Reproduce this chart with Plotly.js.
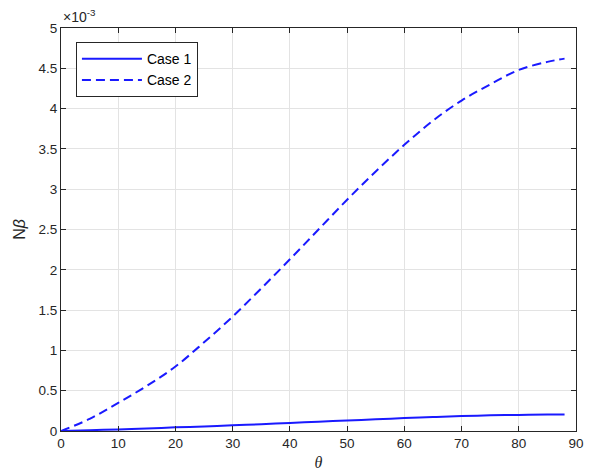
<!DOCTYPE html>
<html>
<head>
<meta charset="utf-8">
<script src="https://cdn.plot.ly/plotly-3.0.1.min.js"></script>
<style>html,body{margin:0;padding:0;background:#fff;}#chart{width:598px;height:472px;}</style>
</head>
<body>
<div id="chart"></div>
<script>
// theta (degrees)
const theta = [0, 5, 10, 15, 20, 25, 30, 35, 40, 45, 50, 55, 60, 65, 70, 75, 80, 85, 88];
// N_beta values in units of 1e-3
const case1 = [0, 0.01, 0.02, 0.032, 0.045, 0.057, 0.07, 0.085, 0.1, 0.115, 0.13, 0.145, 0.16, 0.173, 0.185, 0.194, 0.2, 0.204, 0.205];
const case2 = [0, 0.15, 0.35, 0.56, 0.8, 1.1, 1.42, 1.77, 2.13, 2.5, 2.87, 3.22, 3.55, 3.85, 4.1, 4.3, 4.48, 4.58, 4.62];
const yTicks = [0, 0.5, 1, 1.5, 2, 2.5, 3, 3.5, 4, 4.5, 5];
const yTickText = ['0', '0.5', '1', '1.5', '2', '2.5', '3', '3.5', '4', '4.5', '5'];
const xTicks = [0, 10, 20, 30, 40, 50, 60, 70, 80, 90];

const traces = [
  {x: theta, y: case1, name: 'Case 1', mode: 'lines', line: {color: '#1a1aff', width: 2, shape: 'spline'}},
  {x: theta, y: case2, name: 'Case 2', mode: 'lines', line: {color: '#1a1aff', width: 2, dash: '9px,5px', shape: 'spline'}}
];

const axisCommon = {
  showline: true, linecolor: '#262626', linewidth: 1, mirror: 'ticks',
  ticks: 'inside', ticklen: 5, tickcolor: '#262626',
  showgrid: true, gridcolor: '#e3e3e3', gridwidth: 1,
  zeroline: false,
  tickfont: {family: 'Liberation Sans, Arial, sans-serif', size: 13.5, color: '#262626'}
};

const layout = {
  width: 598, height: 472,
  margin: {l: 61, r: 22, t: 28, b: 41},
  paper_bgcolor: '#ffffff', plot_bgcolor: '#ffffff',
  showlegend: true,
  legend: {
    x: 0.029, y: 0.965, xanchor: 'left', yanchor: 'top',
    bgcolor: '#ffffff', bordercolor: '#262626', borderwidth: 1,
    font: {family: 'Liberation Sans, Arial, sans-serif', size: 14, color: '#000'},
    itemwidth: 60,
    tracegroupgap: 0
  },
  xaxis: Object.assign({}, axisCommon, {
    range: [0, 90], tickvals: xTicks,
    title: {text: '<i>θ</i>', font: {family: 'Liberation Serif, Times New Roman, serif', size: 16, color: '#262626'}, standoff: 6}
  }),
  yaxis: Object.assign({}, axisCommon, {
    range: [0, 5], tickvals: yTicks, ticktext: yTickText,
    title: {text: 'N<i>β</i>', font: {family: 'Liberation Sans, Arial, sans-serif', size: 16, color: '#262626'}, standoff: 8}
  }),
  annotations: [{
    xref: 'paper', yref: 'paper', x: 0, y: 1, xanchor: 'left', yanchor: 'bottom', yshift: 1,
    showarrow: false,
    text: '×10<sup>-3</sup>',
    font: {family: 'Liberation Sans, Arial, sans-serif', size: 14, color: '#262626'}
  }]
};

Plotly.newPlot('chart', traces, layout, {displayModeBar: false, staticPlot: true});
</script>
</body>
</html>
